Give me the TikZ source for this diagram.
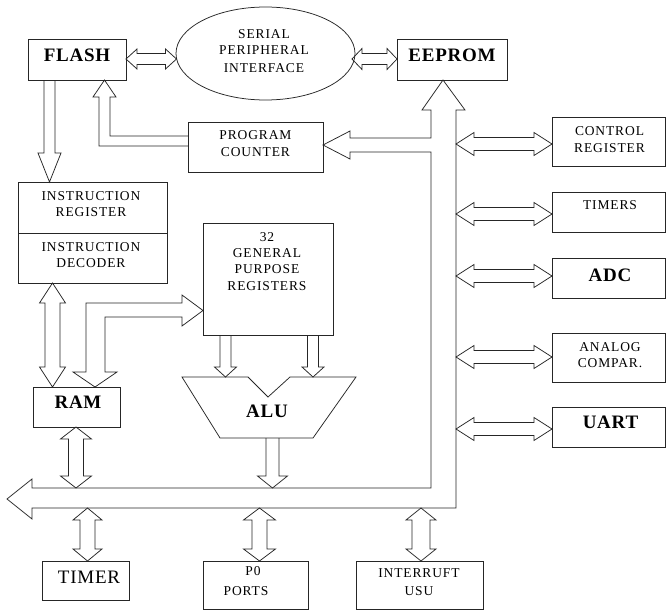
\documentclass[tikz,border=0pt]{standalone}
\usepackage{fontspec}
\setmainfont{Liberation Serif}
\newfontfamily\smallf[LetterSpace=6.5]{Liberation Serif}
\newfontfamily\bigf[LetterSpace=4]{Liberation Serif}
\usetikzlibrary{calc,shapes.geometric}
% double hollow arrow: #1 tip A, #2 tip B, #3 shaft half width, #4 head half width, #5 head length
\newcommand\dblarrow[5]{%
  \draw[ln] (#1) -- ($(#1)!#5!(#2)!#4!90:(#2)$) -- ($(#1)!#5!(#2)!#3!90:(#2)$)
   -- ($(#2)!#5!(#1)!#3!-90:(#1)$) -- ($(#2)!#5!(#1)!#4!-90:(#1)$) -- (#2)
   -- ($(#2)!#5!(#1)!#4!90:(#1)$) -- ($(#2)!#5!(#1)!#3!90:(#1)$)
   -- ($(#1)!#5!(#2)!#3!-90:(#2)$) -- ($(#1)!#5!(#2)!#4!-90:(#2)$) -- cycle;}
% single hollow arrow: #1 base, #2 tip
\newcommand\sglarrow[5]{%
  \draw[ln] ($(#1)!#3!90:(#2)$) -- ($(#2)!#5!(#1)!#3!-90:(#1)$) -- ($(#2)!#5!(#1)!#4!-90:(#1)$)
   -- (#2) -- ($(#2)!#5!(#1)!#4!90:(#1)$) -- ($(#2)!#5!(#1)!#3!90:(#1)$) -- ($(#1)!#3!-90:(#2)$);}
\begin{document}
\begin{tikzpicture}[x=1pt,y=-1pt,
  ln/.style={draw=black!85, line width=0.75pt, line join=miter},
  box/.style={ln, rectangle, inner sep=0pt, outer sep=0pt, anchor=north west},
  sm/.style={font=\smallf\fontsize{13.5}{15}\selectfont, anchor=base, inner sep=0pt},
  bgb/.style={font=\bigf\bfseries\fontsize{19}{21}\selectfont, anchor=base, inner sep=0pt},
  bgr/.style={font=\bigf\fontsize{19}{21}\selectfont, anchor=base, inner sep=0pt}]
\useasboundingbox (0,0) rectangle (666,610);
\fill[white] (0,0) rectangle (666,610);

% ---------- boxes ----------
\node[box, minimum width=98pt, minimum height=41pt] (flash) at (28,39) {};
\node[box, minimum width=110pt, minimum height=41pt] (eeprom) at (397,39) {};
\node[ln, ellipse, minimum width=179pt, minimum height=93pt, inner sep=0pt, outer sep=0pt] (spi) at (265.5,53.5) {};
\node[box, minimum width=135pt, minimum height=50pt] (pc) at (188,122) {};
\node[box, minimum width=149pt, minimum height=101pt] (ir) at (18,182) {};
\draw[ln] (ir.west |- 0,233) -- (ir.east |- 0,233);
\node[box, minimum width=130pt, minimum height=112pt] (gpr) at (203,223) {};
\node[box, minimum width=87pt, minimum height=40pt] (ram) at (33,387) {};
\node[box, minimum width=113pt, minimum height=49pt] (ctrl) at (552,117) {};
\node[box, minimum width=113pt, minimum height=40pt] (timers) at (552,192) {};
\node[box, minimum width=113pt, minimum height=40pt] (adc) at (552,258) {};
\node[box, minimum width=113pt, minimum height=49pt] (anlg) at (552,333) {};
\node[box, minimum width=113pt, minimum height=40pt] (uart) at (552,407) {};
\node[box, minimum width=87pt, minimum height=39pt] (timer) at (42,561) {};
\node[box, minimum width=105pt, minimum height=48pt] (ports) at (203,561) {};
\node[box, minimum width=127pt, minimum height=48pt] (intr) at (356,561) {};

% ALU
\coordinate (alu-tl) at (182,377);
\coordinate (alu-tr) at (356,377);
\coordinate (alu-br) at (313,438);
\coordinate (alu-bl) at (220,438);
\draw[ln] (alu-tl) -- (248,377) -- (268,397) -- (290,377) -- (alu-tr) -- (alu-br) -- (alu-bl) -- cycle;

% ---------- texts ----------
\node[sm] (t-spi1) at (264,38.5) {SERIAL};
\node[sm] (t-spi2) at (264,55) {PERIPHERAL};
\node[sm] (t-spi3) at (264,72) {INTERFACE};
\node[bgb] (t-flash) at (77,62) {FLASH};
\node[bgb] (t-eeprom) at (452,62) {EEPROM};
\node[sm] (t-pc1) at (255.5,139.5) {PROGRAM};
\node[sm] (t-pc2) at (255.5,156) {COUNTER};
\node[sm] (t-ir1) at (91,200) {INSTRUCTION};
\node[sm] (t-ir2) at (91,216.7) {REGISTER};
\node[sm] (t-ir3) at (91,251) {INSTRUCTION};
\node[sm] (t-ir4) at (91,267.7) {DECODER};
\node[sm] (t-g1) at (267,241) {32};
\node[sm] (t-g2) at (267,257) {GENERAL};
\node[sm] (t-g3) at (267,273.5) {PURPOSE};
\node[sm] (t-g4) at (267,290) {REGISTERS};
\node[bgb] (t-ram) at (78,408) {RAM};
\node[bgb] (t-alu) at (267,417) {ALU};
\node[sm] (t-c1) at (609.5,135) {CONTROL};
\node[sm] (t-c2) at (609.5,152) {REGISTER};
\node[sm] (t-tms) at (610,209.5) {TIMERS};
\node[bgb] (t-adc) at (610,281) {ADC};
\node[sm] (t-an1) at (610,351) {ANALOG};
\node[sm] (t-an2) at (610,367) {COMPAR.};
\node[bgb] (t-uart) at (610.5,428.5) {UART};
\node[bgr] (t-timer) at (89,583) {TIMER};
\node[sm] (t-p1) at (253,575) {P0};
\node[sm] (t-p2) at (246,595) {PORTS};
\node[sm] (t-i1) at (419,577) {INTERRUFT};
\node[sm] (t-i2) at (419,595) {USU};

% ---------- connectors ----------
% FLASH <-> SPI <-> EEPROM
\coordinate (c-fl-r) at (126,59);
\coordinate (c-spi-l) at (176.5,59);
\coordinate (c-spi-r) at (352,59);
\coordinate (c-ee-l) at (397,59);
\dblarrow{c-fl-r}{c-spi-l}{5.5pt}{10pt}{11pt}
\dblarrow{c-spi-r}{c-ee-l}{5.5pt}{10.5pt}{10pt}

% FLASH -> IR
\coordinate (c-fl-b) at (49.5,80);
\coordinate (c-ir-t) at (49.5,182);
\sglarrow{c-fl-b}{c-ir-t}{5.5pt}{11.5pt}{29pt}

% PC -> FLASH (elbow)
\coordinate (c-fl-b2) at (104.5,80);
\draw[ln] (pc.west |- 0,136) -- (110,136) -- (110,97) -- (116,97) -- (c-fl-b2)
  -- (93,97) -- (99,97) -- (99,146) -- (pc.west |- 0,146);

% main bus with EEPROM arrow and PC arrow
\coordinate (c-ee-b) at (443,80);
\coordinate (c-pc-r) at (323,145);
\coordinate (c-bus-l) at (7,499);
\draw[ln] (c-ee-b) -- (465,110) -- (456,110) -- (456,508) -- (32,508) -- (32,519)
  -- (c-bus-l) -- (32,479) -- (32,488) -- (431,488) -- (431,152) -- (350,152) -- (350,159)
  -- (c-pc-r) -- (350,131) -- (350,138) -- (431,138) -- (431,110) -- (422,110) -- cycle;

% bus <-> right peripherals
\coordinate (c-r1a) at (456,144); \coordinate (c-r1b) at (552,144);
\coordinate (c-r2a) at (456,214); \coordinate (c-r2b) at (552,214);
\coordinate (c-r3a) at (456,276); \coordinate (c-r3b) at (552,276);
\coordinate (c-r4a) at (456,357); \coordinate (c-r4b) at (552,357);
\coordinate (c-r5a) at (456,429); \coordinate (c-r5b) at (552,429);
\dblarrow{c-r1a}{c-r1b}{6.5pt}{11.5pt}{18pt}
\dblarrow{c-r2a}{c-r2b}{6.5pt}{11.5pt}{18pt}
\dblarrow{c-r3a}{c-r3b}{6.5pt}{11.5pt}{18pt}
\dblarrow{c-r4a}{c-r4b}{6.5pt}{11.5pt}{18pt}
\dblarrow{c-r5a}{c-r5b}{6.5pt}{11.5pt}{18pt}

% IR <-> RAM
\coordinate (c-ir-b) at (52.5,283);
\coordinate (c-ram-t) at (52.5,387);
\dblarrow{c-ir-b}{c-ram-t}{7.5pt}{13pt}{20pt}

% RAM <-> GPR (elbow, two heads)
\coordinate (c-ram-t2) at (95,387);
\coordinate (c-gpr-l) at (203,310.5);
\draw[ln] (c-ram-t2) -- (117,372) -- (105,372) -- (105,317) -- (182,317) -- (182,326)
  -- (c-gpr-l) -- (182,295) -- (182,303) -- (86,303) -- (86,372) -- (73,372) -- cycle;

% GPR -> ALU
\coordinate (c-g1a) at (225.5,335); \coordinate (c-g1b) at (225.5,377);
\coordinate (c-g2a) at (313,335);   \coordinate (c-g2b) at (313,377);
\sglarrow{c-g1a}{c-g1b}{5.5pt}{11pt}{10pt}
\sglarrow{c-g2a}{c-g2b}{5.5pt}{11pt}{10pt}

% ALU -> bus
\coordinate (c-alu-b) at (272.5,438); \coordinate (c-bus-a) at (272.5,488);
\sglarrow{c-alu-b}{c-bus-a}{6.5pt}{15pt}{12pt}

% RAM <-> bus
\coordinate (c-ram-b) at (76,427); \coordinate (c-bus-r) at (76,488);
\dblarrow{c-ram-b}{c-bus-r}{7.5pt}{15.5pt}{12pt}

% bus <-> bottom boxes
\coordinate (c-b1a) at (87.5,508); \coordinate (c-b1b) at (87.5,561);
\coordinate (c-b2a) at (259.5,508); \coordinate (c-b2b) at (259.5,561);
\coordinate (c-b3a) at (421,508); \coordinate (c-b3b) at (421,561);
\dblarrow{c-b1a}{c-b1b}{7.5pt}{14.5pt}{12pt}
\dblarrow{c-b2a}{c-b2b}{7.5pt}{16pt}{12pt}
\dblarrow{c-b3a}{c-b3b}{9pt}{15pt}{12pt}
\end{tikzpicture}
\end{document}
